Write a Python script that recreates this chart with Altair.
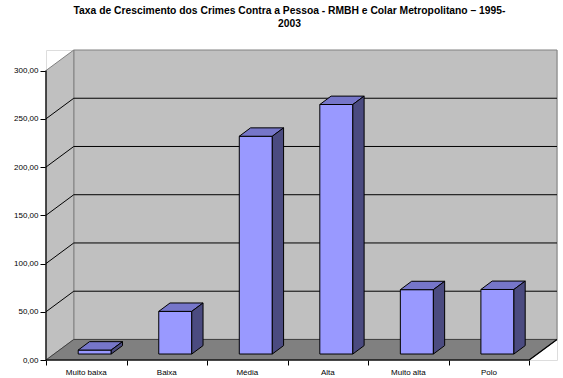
import altair as alt
import pandas as pd

# Growth rate of crimes against the person, by class (1995-2003)
categories = ["Muito baixa", "Baixa", "Média", "Alta", "Muito alta", "Polo"]
values = [4.1, 44.2, 225.7, 258.6, 66.7, 66.9]
y_ticks = [0, 50, 100, 150, 200, 250, 300]
title_lines = [
    "Taxa de Crescimento dos Crimes Contra a Pessoa - RMBH e Colar Metropolitano – 1995-",
    "2003",
]

# 3-D box geometry, in data units (x: one unit per category, y: value units)
N = len(categories)
Y_MAX = 300
DX, DY = 0.345, 21.3          # full depth of the floor / walls
BASE = 6.2                    # bars stand part-way into the floor
BAR_L, BAR_R = 0.40, 0.81     # front face inside each band
BDX, BDY = 0.14, 8.7          # depth of each bar

FONT = "Liberation Sans"
C_WALL, C_FLOOR = "#C0C0C0", "#808080"
C_FRONT, C_TOP, C_SIDE = "#9999FF", "#7676C9", "#4B4B80"

xs = alt.Scale(domain=[0, N + DX], nice=False, zero=False)
ys = alt.Scale(domain=[0, Y_MAX + DY], nice=False, zero=False)

x_axis = alt.Axis(values=list(range(N + 1)), labels=False, ticks=True, tickSize=5,
                  tickColor="black", domain=False, grid=False, title=None)
y_axis = alt.Axis(values=y_ticks, tickSize=6, tickColor="black", domain=False, grid=False,
                  title=None, labelFont=FONT, labelFontSize=8, labelColor="black",
                  labelPadding=2,
                  labelExpr="replace(format(datum.value, '.2f'), '.', ',')")


def X(f):
    return alt.X(f"{f}:Q", scale=xs, axis=x_axis)


def Y(f):
    return alt.Y(f"{f}:Q", scale=ys, axis=y_axis, stack=None)


# walls and floor
back = pd.DataFrame({"x": [DX], "x2": [N + DX], "y": [DY], "y2": [Y_MAX + DY]})
left = pd.DataFrame({"x": [0, DX], "y": [0, DY], "y2": [Y_MAX, Y_MAX + DY]})
floor = pd.DataFrame({"y": [0, DY], "x": [0, DX], "x2": [N, N + DX]})

back_wall = alt.Chart(back).mark_rect(fill=C_WALL, stroke=C_FLOOR, strokeWidth=1).encode(
    x=X("x"), x2="x2", y=Y("y"), y2="y2")
left_wall = alt.Chart(left).mark_area(fill=C_WALL, stroke=C_FLOOR, strokeWidth=1,
                                      orient="vertical").encode(x=X("x"), y=Y("y"), y2="y2")
floor_area = alt.Chart(floor).mark_area(fill=C_FLOOR, stroke="#404040", strokeWidth=1,
                                        orient="horizontal").encode(y=Y("y"), x=X("x"), x2="x2")

# gridlines on the left and back walls
grid_rows = []
for v in y_ticks[1:-1]:
    grid_rows.append({"x": 0, "x2": DX, "y": v, "y2": v + DY})
    grid_rows.append({"x": DX, "x2": N + DX, "y": v + DY, "y2": v + DY})
grid = alt.Chart(pd.DataFrame(grid_rows)).mark_rule(color="black", strokeWidth=1).encode(
    x=X("x"), x2="x2", y=Y("y"), y2="y2")

# front edges of the box
edges = pd.DataFrame([
    {"x": 0, "x2": 0, "y": 0, "y2": Y_MAX},
    {"x": 0, "x2": N, "y": 0, "y2": 0},
    {"x": N, "x2": N + DX, "y": 0, "y2": DY},
])
edge_rules = alt.Chart(edges).mark_rule(color="black", strokeWidth=1.2).encode(
    x=X("x"), x2="x2", y=Y("y"), y2="y2")

# bar faces
front_rows, top_rows, side_rows = [], [], []
for i, (c, v) in enumerate(zip(categories, values)):
    l, r = i + BAR_L, i + BAR_R
    top = BASE + v
    front_rows.append({"cat": c, "x": l, "x2": r, "y": BASE, "y2": top})
    top_rows += [{"cat": c, "y": top, "x": l, "x2": r},
                 {"cat": c, "y": top + BDY, "x": l + BDX, "x2": r + BDX}]
    side_rows += [{"cat": c, "x": r, "y": BASE, "y2": top},
                  {"cat": c, "x": r + BDX, "y": BASE + BDY, "y2": top + BDY}]

front = alt.Chart(pd.DataFrame(front_rows)).mark_rect(
    fill=C_FRONT, stroke="black", strokeWidth=1).encode(x=X("x"), x2="x2", y=Y("y"), y2="y2")
topf = alt.Chart(pd.DataFrame(top_rows)).mark_area(
    fill=C_TOP, stroke="black", strokeWidth=1, orient="horizontal").encode(
    y=Y("y"), x=X("x"), x2="x2", detail="cat:N")
side = alt.Chart(pd.DataFrame(side_rows)).mark_area(
    fill=C_SIDE, stroke="black", strokeWidth=1, orient="vertical").encode(
    x=X("x"), y=Y("y"), y2="y2", detail="cat:N")

# category labels under the floor
lab = pd.DataFrame({"cat": categories, "x": [i + 0.5 for i in range(N)], "y": [0] * N})
labels = alt.Chart(lab).mark_text(font=FONT, fontSize=8, color="black", dy=13,
                                  baseline="middle").encode(x=X("x"), y=Y("y"), text="cat:N")

chart = alt.layer(
    back_wall, left_wall, floor_area, grid, edge_rules, front, topf, side, labels
).properties(
    width=511, height=310,
    title=alt.TitleParams(text=title_lines, font=FONT, fontSize=10.3, fontWeight="bold",
                          color="black", anchor="middle", dx=-12, offset=19, lineHeight=13),
    autosize=alt.AutoSizeParams(type="none"),
    padding={"left": 46, "top": 50, "right": 6, "bottom": 18},
).configure_view(stroke=None).configure(background="white")

chart.save("out.html", embed_options={"renderer": "svg", "actions": False})
